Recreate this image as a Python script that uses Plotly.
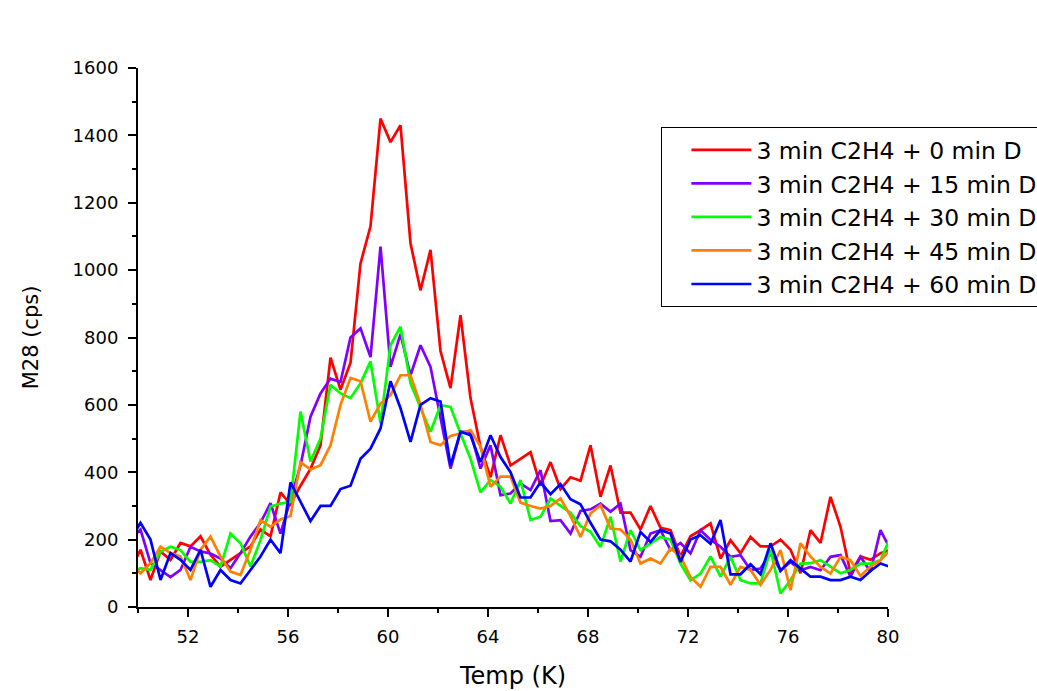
import plotly.graph_objects as go

temp = [49.7, 50.1, 50.5, 50.9, 51.3, 51.7, 52.1, 52.5, 52.9, 53.3,
        53.7, 54.1, 54.5, 54.9, 55.3, 55.7, 56.1, 56.5, 56.9, 57.3,
        57.7, 58.1, 58.5, 58.9, 59.3, 59.7, 60.1, 60.5, 60.9, 61.3,
        61.7, 62.1, 62.5, 62.9, 63.3, 63.7, 64.1, 64.5, 64.9, 65.3,
        65.7, 66.1, 66.5, 66.9, 67.3, 67.7, 68.1, 68.5, 68.9, 69.3,
        69.7, 70.1, 70.5, 70.9, 71.3, 71.7, 72.1, 72.5, 72.9, 73.3,
        73.7, 74.1, 74.5, 74.9, 75.3, 75.7, 76.1, 76.5, 76.9, 77.3,
        77.7, 78.1, 78.5, 78.9, 79.3, 79.7, 80.1]

d0 = [110, 170, 80, 165, 140, 190, 180, 210, 155, 120,
      140, 160, 180, 230, 210, 340, 305, 360, 410, 480,
      740, 645, 725, 1020, 1130, 1450, 1380, 1430, 1080, 940,
      1060, 760, 650, 866, 620, 475, 385, 510, 420, 440,
      460, 360, 430, 350, 385, 375, 480, 327, 420, 280,
      280, 230, 300, 235, 228, 150, 210, 228, 248, 144,
      198, 160, 208, 180, 180, 200, 170, 100, 228, 190,
      327, 238, 100, 150, 140, 160, 170]

d15 = [200, 230, 130, 110, 89, 110, 179, 165, 159, 144,
       115, 160, 209, 250, 308, 218, 317, 420, 565, 634,
       678, 668, 800, 827, 742, 1070, 713, 810, 688, 777,
       713, 565, 411, 520, 520, 411, 480, 332, 337, 367,
       347, 406, 255, 258, 218, 285, 290, 307, 283, 307,
       169, 149, 218, 228, 169, 190, 159, 228, 200, 179,
       149, 154, 110, 114, 159, 109, 134, 109, 119, 109,
       149, 154, 90, 149, 105, 228, 170]

d30 = [100, 115, 110, 164, 179, 169, 134, 134, 139, 120,
       218, 189, 120, 199, 298, 307, 312, 580, 432, 500,
       660, 634, 620, 664, 729, 545, 777, 832, 664, 594,
       520, 599, 594, 515, 440, 340, 377, 357, 307, 377,
       258, 268, 322, 300, 280, 240, 223, 178, 268, 135,
       228, 169, 188, 208, 200, 129, 79, 99, 150, 90,
       149, 80, 70, 70, 170, 40, 80, 129, 130, 139,
       120, 100, 110, 129, 129, 139, 208]

d45 = [130, 100, 130, 179, 160, 150, 80, 170, 209, 150,
       105, 95, 170, 258, 238, 260, 270, 430, 408, 421,
       480, 600, 680, 670, 550, 604, 629, 688, 688, 600,
       490, 480, 508, 515, 525, 476, 357, 387, 387, 310,
       300, 292, 300, 322, 270, 208, 278, 302, 233, 230,
       200, 129, 144, 129, 174, 150, 89, 60, 119, 119,
       66, 119, 110, 66, 110, 169, 50, 189, 150, 119,
       99, 149, 139, 92, 120, 139, 170]

d60 = [200, 250, 200, 80, 160, 140, 110, 170, 60, 110,
       80, 70, 110, 150, 200, 160, 370, 310, 255, 300,
       300, 350, 360, 440, 470, 530, 670, 590, 490, 600,
       620, 610, 420, 520, 510, 430, 510, 445, 400, 325,
       325, 370, 335, 365, 320, 305, 250, 200, 195, 170,
       135, 223, 193, 228, 218, 134, 200, 213, 188, 258,
       97, 97, 127, 97, 189, 107, 139, 114, 90, 90,
       80, 80, 90, 80, 107, 129, 119]

names = ["3 min C2H4 + 0 min D", "3 min C2H4 + 15 min D", "3 min C2H4 + 30 min D",
         "3 min C2H4 + 45 min D", "3 min C2H4 + 60 min D"]
series = [d0, d15, d30, d45, d60]
colors = ["#FF0000", "#8000FF", "#00FF00", "#FF8000", "#0000FF"]

x_ticks = [52, 56, 60, 64, 68, 72, 76, 80]
y_ticks = [0, 200, 400, 600, 800, 1000, 1200, 1400, 1600]

fig = go.Figure()
for i, (nm, ys, c) in enumerate(zip(names, series, colors)):
    fig.add_trace(go.Scatter(x=temp, y=ys, mode="lines", name=nm,
                             line=dict(color=c, width=2.7)))

fig.update_layout(
    width=1037, height=691,
    margin=dict(l=138, r=149, t=68, b=84, autoexpand=False),
    plot_bgcolor="white", paper_bgcolor="white",
    font=dict(family="DejaVu Sans", color="black"),
    showlegend=True,
    legend=dict(x=0.697, y=0.8905, xanchor="left", yanchor="top",
                bgcolor="white", bordercolor="black", borderwidth=1,
                font=dict(size=23.5, family="DejaVu Sans", color="black"),
                itemwidth=60,
                title=dict(text="\u00a0\u00a0", side="left",
                           font=dict(size=23, family="DejaVu Sans"))),
)
fig.update_xaxes(range=[50, 80], tickmode="array", tickvals=x_ticks,
                 ticktext=[str(v) for v in x_ticks], automargin=False,
                 showline=True, linecolor="black", linewidth=2,
                 ticks="outside", ticklen=8, tickwidth=2, tickcolor="black",
                 showgrid=False, zeroline=False,
                 tickfont=dict(size=18), ticklabelstandoff=4,
                 minor=dict(tickmode="array", tickvals=[50, 54, 58, 62, 66, 70, 74, 78],
                            ticks="outside", ticklen=4, tickwidth=2, tickcolor="black",
                            showgrid=False),
                 title=dict(text="Temp (K)", font=dict(size=24), standoff=22))
fig.update_yaxes(range=[0, 1600], tickmode="array", tickvals=y_ticks,
                 ticktext=[str(v) for v in y_ticks], automargin=False,
                 showline=True, linecolor="black", linewidth=2,
                 ticks="outside", ticklen=8, tickwidth=2, tickcolor="black",
                 showgrid=False, zeroline=False,
                 tickfont=dict(size=18), ticklabelstandoff=6,
                 minor=dict(tickmode="array", tickvals=[100, 300, 500, 700, 900, 1100, 1300, 1500],
                            ticks="outside", ticklen=4, tickwidth=2, tickcolor="black",
                            showgrid=False),
                 title=dict(text="M28 (cps)", font=dict(size=21), standoff=28))

fig.write_html("out.html")
